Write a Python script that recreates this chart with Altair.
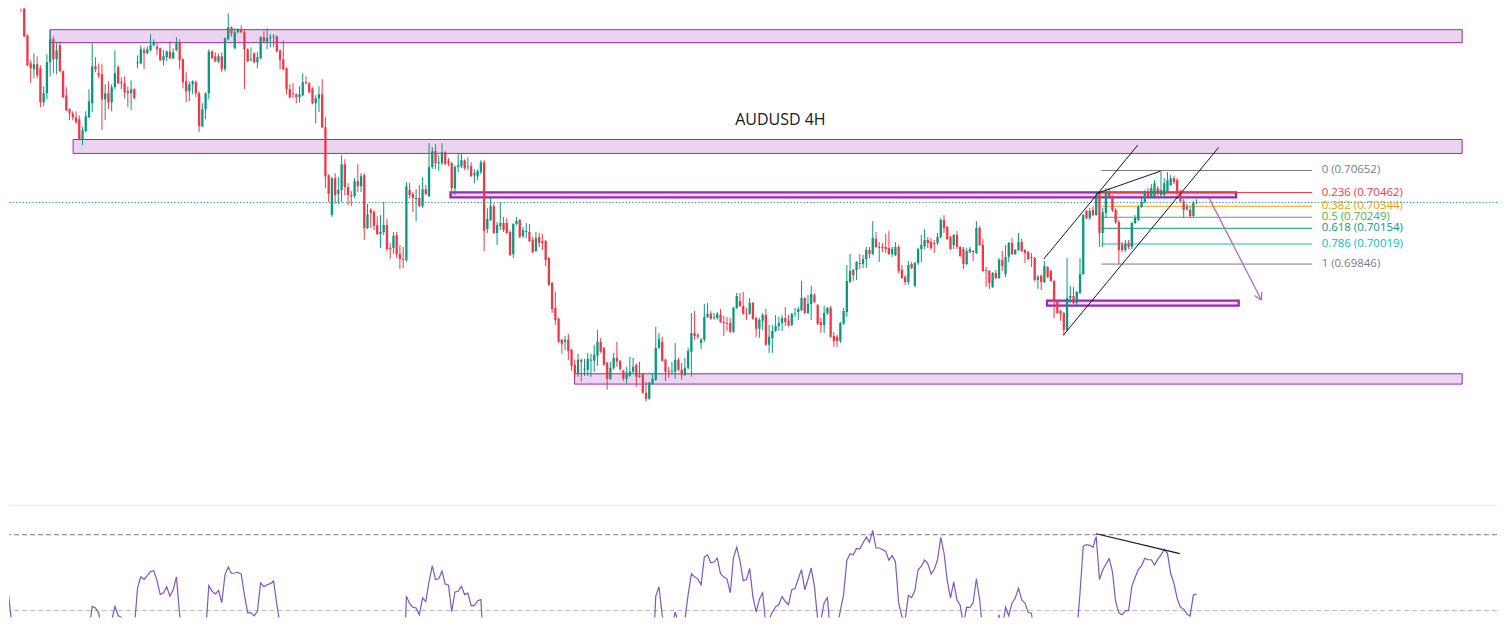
import altair as alt
import pandas as pd

# ---------------- candle data (AUDUSD 4H), first bar index = -4 ----------------
FIRST_BAR = -4

OPEN = [
 0.72461, 0.72375, 0.72306, 0.72220,
 0.72151, 0.72057, 0.71816, 0.71575, 0.71524, 0.71567, 0.71532, 0.71240, 0.71317, 0.71584,
 0.71782, 0.71610, 0.71730, 0.71506, 0.71300, 0.71180, 0.71145, 0.71111, 0.71094, 0.70922,
 0.70990, 0.71111, 0.71231, 0.71549, 0.71489, 0.71481, 0.71266, 0.71317, 0.71240, 0.71369,
 0.71541, 0.71412, 0.71403, 0.71334, 0.71317, 0.71352, 0.71575, 0.71575, 0.71687, 0.71661,
 0.71687, 0.71730, 0.71721, 0.71704, 0.71601, 0.71627, 0.71678, 0.71618, 0.71687, 0.71756,
 0.71610, 0.71420, 0.71334, 0.71395, 0.71412, 0.71317, 0.71033, 0.71180, 0.71317, 0.71678,
 0.71635, 0.71592, 0.71635, 0.71524, 0.71782, 0.71885, 0.71704, 0.71842, 0.71868, 0.71842,
 0.71696, 0.71601, 0.71661, 0.71584, 0.71618, 0.71799, 0.71764, 0.71790, 0.71799, 0.71807,
 0.71687, 0.71610, 0.71532, 0.71352, 0.71317, 0.71309, 0.71283, 0.71300, 0.71412, 0.71403,
 0.71360, 0.71231, 0.71274, 0.71309, 0.71025, 0.70612, 0.70268, 0.70586, 0.70449, 0.70483,
 0.70706, 0.70509, 0.70440, 0.70431, 0.70560, 0.70517, 0.70612, 0.70156, 0.70311, 0.70294,
 0.70182, 0.70105, 0.70122, 0.70182, 0.69984, 0.69984, 0.70096, 0.69933, 0.69890, 0.69881,
 0.70483, 0.70449, 0.70405, 0.70414, 0.70345, 0.70491, 0.70431, 0.70681, 0.70818, 0.70715,
 0.70715, 0.70810, 0.70732, 0.70715, 0.70500, 0.70681, 0.70689, 0.70741, 0.70681, 0.70689,
 0.70612, 0.70603, 0.70638, 0.70724, 0.70147, 0.70225, 0.70345, 0.70113, 0.70173, 0.70199,
 0.70199, 0.70122, 0.69933, 0.70191, 0.70225, 0.70087, 0.70122, 0.70122, 0.70053, 0.69958,
 0.70079, 0.70044, 0.70044, 0.69898, 0.69683, 0.69468, 0.69374, 0.69193, 0.69176, 0.69193,
 0.69107, 0.68978, 0.68901, 0.69021, 0.68935, 0.68935, 0.69013, 0.69013, 0.69056, 0.69176,
 0.69124, 0.68995, 0.68858, 0.68952, 0.69038, 0.69013, 0.68926, 0.68858, 0.68883, 0.68918,
 0.68978, 0.68875, 0.68901, 0.68737, 0.68686, 0.68815, 0.68849, 0.69124, 0.69176, 0.69021,
 0.68926, 0.68918, 0.68918, 0.69021, 0.68935, 0.68892, 0.68952, 0.69090, 0.69253, 0.69236,
 0.69167, 0.69193, 0.69391, 0.69417, 0.69382, 0.69382, 0.69408, 0.69348, 0.69339, 0.69339,
 0.69262, 0.69468, 0.69528, 0.69485, 0.69425, 0.69417, 0.69511, 0.69382, 0.69288, 0.69357,
 0.69408, 0.69150, 0.69210, 0.69270, 0.69313, 0.69339, 0.69382, 0.69357, 0.69322, 0.69417,
 0.69434, 0.69451, 0.69554, 0.69425, 0.69503, 0.69580, 0.69494, 0.69348, 0.69322, 0.69425,
 0.69468, 0.69227, 0.69219, 0.69184, 0.69331, 0.69434, 0.69692, 0.69795, 0.69795, 0.69855,
 0.69847, 0.69890, 0.69967, 0.69933, 0.70062, 0.69984, 0.69993, 0.69993, 0.69984, 0.69933,
 0.69924, 0.69993, 0.69795, 0.69735, 0.69692, 0.69847, 0.69657, 0.69855, 0.69976, 0.70002,
 0.70053, 0.70036, 0.70027, 0.70027, 0.70079, 0.70225, 0.70165, 0.70079, 0.70010, 0.70096,
 0.69993, 0.69976, 0.69847, 0.69950, 0.69958, 0.69941, 0.70156, 0.70010, 0.69795, 0.69786,
 0.69649, 0.69769, 0.69726, 0.69881, 0.69761, 0.69907, 0.70027, 0.69933, 0.69967, 0.70036,
 0.69967, 0.69950, 0.69907, 0.69898, 0.69709, 0.69743, 0.69692, 0.69821, 0.69786, 0.69700,
 0.69528, 0.69442, 0.69425, 0.69279, 0.69554, 0.69571, 0.69511, 0.69597, 0.69761, 0.70302,
 0.70242, 0.70311, 0.70268, 0.70457, 0.70113, 0.70285, 0.70466, 0.70423, 0.70311, 0.70208,
 0.70010, 0.69967, 0.70027, 0.69993, 0.70199, 0.70225, 0.70337, 0.70380, 0.70466, 0.70423,
 0.70431, 0.70500, 0.70440, 0.70440, 0.70466, 0.70526, 0.70586, 0.70569, 0.70457, 0.70388,
 0.70320, 0.70311, 0.70259, 0.70371,
]

CLOSE = [
 0.72375, 0.72306, 0.72220, 0.72151,
 0.72057, 0.71807, 0.71558, 0.71532, 0.71567, 0.71472, 0.71240, 0.71317, 0.71584, 0.71782,
 0.71610, 0.71687, 0.71506, 0.71283, 0.71171, 0.71145, 0.71111, 0.71068, 0.70922, 0.70999,
 0.71119, 0.71248, 0.71549, 0.71524, 0.71472, 0.71266, 0.71317, 0.71240, 0.71369, 0.71489,
 0.71403, 0.71403, 0.71326, 0.71317, 0.71352, 0.71274, 0.71584, 0.71696, 0.71661, 0.71696,
 0.71730, 0.71756, 0.71696, 0.71601, 0.71635, 0.71678, 0.71618, 0.71670, 0.71756, 0.71601,
 0.71412, 0.71334, 0.71395, 0.71420, 0.71317, 0.71033, 0.71180, 0.71317, 0.71678, 0.71618,
 0.71592, 0.71635, 0.71524, 0.71790, 0.71885, 0.71833, 0.71842, 0.71868, 0.71842, 0.71696,
 0.71592, 0.71610, 0.71584, 0.71627, 0.71799, 0.71764, 0.71790, 0.71799, 0.71807, 0.71678,
 0.71601, 0.71524, 0.71352, 0.71283, 0.71309, 0.71283, 0.71309, 0.71412, 0.71403, 0.71326,
 0.71231, 0.71274, 0.71309, 0.71025, 0.70603, 0.70449, 0.70586, 0.70440, 0.70483, 0.70706,
 0.70509, 0.70440, 0.70431, 0.70560, 0.70517, 0.70603, 0.70156, 0.70276, 0.70285, 0.70173,
 0.70105, 0.70122, 0.70182, 0.69976, 0.69976, 0.70087, 0.69933, 0.69890, 0.69881, 0.70517,
 0.70440, 0.70414, 0.70414, 0.70345, 0.70491, 0.70449, 0.70681, 0.70818, 0.70715, 0.70724,
 0.70810, 0.70706, 0.70715, 0.70500, 0.70681, 0.70698, 0.70741, 0.70672, 0.70689, 0.70603,
 0.70629, 0.70646, 0.70724, 0.70130, 0.70234, 0.70345, 0.70113, 0.70182, 0.70199, 0.70139,
 0.70113, 0.69924, 0.70191, 0.70216, 0.70079, 0.70139, 0.70130, 0.70044, 0.69950, 0.70070,
 0.70027, 0.70027, 0.69881, 0.69666, 0.69459, 0.69365, 0.69176, 0.69159, 0.69193, 0.69098,
 0.68969, 0.68901, 0.69021, 0.69004, 0.68944, 0.69030, 0.69021, 0.69064, 0.69176, 0.69090,
 0.68978, 0.68858, 0.68952, 0.69038, 0.69004, 0.68944, 0.68858, 0.68909, 0.68918, 0.68961,
 0.68875, 0.68883, 0.68737, 0.68686, 0.68823, 0.68858, 0.69124, 0.69202, 0.69013, 0.68918,
 0.68918, 0.68926, 0.69021, 0.68935, 0.68892, 0.68952, 0.69098, 0.69253, 0.69227, 0.69219,
 0.69193, 0.69391, 0.69417, 0.69374, 0.69391, 0.69417, 0.69348, 0.69339, 0.69331, 0.69262,
 0.69468, 0.69571, 0.69485, 0.69417, 0.69417, 0.69511, 0.69374, 0.69288, 0.69365, 0.69408,
 0.69150, 0.69219, 0.69270, 0.69313, 0.69339, 0.69382, 0.69348, 0.69322, 0.69417, 0.69425,
 0.69460, 0.69554, 0.69425, 0.69503, 0.69589, 0.69520, 0.69331, 0.69322, 0.69425, 0.69468,
 0.69219, 0.69184, 0.69184, 0.69339, 0.69442, 0.69700, 0.69786, 0.69752, 0.69864, 0.69847,
 0.69890, 0.69967, 0.69933, 0.70070, 0.69993, 0.69993, 0.69984, 0.69976, 0.69933, 0.69976,
 0.69993, 0.69786, 0.69726, 0.69692, 0.69838, 0.69812, 0.69855, 0.69976, 0.70010, 0.70053,
 0.70027, 0.69984, 0.70019, 0.70079, 0.70225, 0.70156, 0.70062, 0.69976, 0.70096, 0.69993,
 0.69915, 0.69847, 0.69958, 0.69976, 0.69950, 0.70156, 0.70010, 0.69786, 0.69786, 0.69683,
 0.69769, 0.69726, 0.69881, 0.69829, 0.69907, 0.70027, 0.69933, 0.69967, 0.70036, 0.69958,
 0.69941, 0.69890, 0.69898, 0.69709, 0.69735, 0.69692, 0.69829, 0.69735, 0.69700, 0.69520,
 0.69425, 0.69417, 0.69279, 0.69554, 0.69571, 0.69511, 0.69606, 0.69761, 0.70268, 0.70242,
 0.70302, 0.70268, 0.70440, 0.70113, 0.70294, 0.70466, 0.70423, 0.70311, 0.70208, 0.69967,
 0.69967, 0.70019, 0.69993, 0.70199, 0.70242, 0.70337, 0.70380, 0.70457, 0.70431, 0.70500,
 0.70543, 0.70457, 0.70483, 0.70543, 0.70569, 0.70586, 0.70552, 0.70457, 0.70388, 0.70311,
 0.70337, 0.70259, 0.70371, 0.70377,
]

HIGH = [
 0.72504, 0.72401, 0.72341, 0.72246,
 0.72186, 0.72074, 0.71825, 0.71601, 0.71661, 0.71635, 0.71558, 0.71377, 0.71653, 0.71859,
 0.71807, 0.71756, 0.71764, 0.71515, 0.71369, 0.71188, 0.71162, 0.71162, 0.71128, 0.71025,
 0.71162, 0.71352, 0.71747, 0.71627, 0.71575, 0.71567, 0.71395, 0.71420, 0.71395, 0.71687,
 0.71558, 0.71455, 0.71463, 0.71377, 0.71429, 0.71360, 0.71644, 0.71730, 0.71713, 0.71721,
 0.71825, 0.71782, 0.71756, 0.71713, 0.71687, 0.71687, 0.71764, 0.71704, 0.71799, 0.71782,
 0.71618, 0.71498, 0.71420, 0.71429, 0.71429, 0.71334, 0.71231, 0.71326, 0.71696, 0.71687,
 0.71670, 0.71661, 0.71670, 0.71799, 0.72005, 0.71893, 0.71876, 0.71876, 0.71902, 0.71859,
 0.71704, 0.71713, 0.71670, 0.71670, 0.71807, 0.71850, 0.71876, 0.71825, 0.71825, 0.71816,
 0.71696, 0.71773, 0.71541, 0.71395, 0.71403, 0.71317, 0.71377, 0.71489, 0.71463, 0.71412,
 0.71369, 0.71300, 0.71377, 0.71438, 0.71111, 0.70620, 0.70595, 0.70629, 0.70595, 0.70784,
 0.70749, 0.70543, 0.70474, 0.70586, 0.70707, 0.70629, 0.70629, 0.70363, 0.70328, 0.70311,
 0.70259, 0.70268, 0.70380, 0.70234, 0.70027, 0.70122, 0.70122, 0.70010, 0.69993, 0.70552,
 0.70543, 0.70466, 0.70491, 0.70526, 0.70595, 0.70526, 0.70887, 0.70853, 0.70879, 0.70784,
 0.70887, 0.70818, 0.70758, 0.70724, 0.70698, 0.70801, 0.70793, 0.70749, 0.70767, 0.70724,
 0.70664, 0.70664, 0.70741, 0.70741, 0.70328, 0.70414, 0.70371, 0.70208, 0.70380, 0.70251,
 0.70242, 0.70139, 0.70199, 0.70251, 0.70234, 0.70165, 0.70199, 0.70191, 0.70079, 0.70122,
 0.70113, 0.70105, 0.70053, 0.69907, 0.69692, 0.69606, 0.69382, 0.69202, 0.69227, 0.69245,
 0.69116, 0.69021, 0.69073, 0.69030, 0.69030, 0.69081, 0.69073, 0.69150, 0.69279, 0.69210,
 0.69133, 0.69004, 0.69004, 0.69081, 0.69176, 0.69021, 0.68935, 0.68961, 0.69047, 0.69038,
 0.68987, 0.69004, 0.68909, 0.68832, 0.68832, 0.68909, 0.69305, 0.69253, 0.69219, 0.69030,
 0.68961, 0.69004, 0.69167, 0.69038, 0.68995, 0.69038, 0.69124, 0.69425, 0.69442, 0.69253,
 0.69210, 0.69503, 0.69511, 0.69442, 0.69425, 0.69434, 0.69460, 0.69399, 0.69391, 0.69382,
 0.69477, 0.69597, 0.69597, 0.69606, 0.69468, 0.69554, 0.69520, 0.69391, 0.69382, 0.69425,
 0.69460, 0.69322, 0.69322, 0.69408, 0.69391, 0.69408, 0.69477, 0.69408, 0.69425, 0.69468,
 0.69477, 0.69700, 0.69563, 0.69580, 0.69657, 0.69597, 0.69503, 0.69382, 0.69485, 0.69477,
 0.69485, 0.69262, 0.69236, 0.69348, 0.69468, 0.69838, 0.69933, 0.69804, 0.69872, 0.69933,
 0.69924, 0.69993, 0.69993, 0.70216, 0.70122, 0.70036, 0.70027, 0.70105, 0.70130, 0.69993,
 0.70036, 0.70010, 0.69838, 0.69752, 0.69872, 0.69864, 0.69864, 0.69984, 0.70096, 0.70147,
 0.70079, 0.70070, 0.70053, 0.70113, 0.70242, 0.70268, 0.70173, 0.70087, 0.70105, 0.70130,
 0.70002, 0.69993, 0.69984, 0.69993, 0.69967, 0.70216, 0.70173, 0.70062, 0.69821, 0.69795,
 0.69778, 0.69795, 0.69898, 0.69959, 0.70010, 0.70036, 0.70070, 0.69976, 0.70113, 0.70062,
 0.69976, 0.69958, 0.69941, 0.69907, 0.69752, 0.69761, 0.69872, 0.69829, 0.69795, 0.69709,
 0.69537, 0.69451, 0.69434, 0.69898, 0.69657, 0.69649, 0.69614, 0.69898, 0.70277, 0.70311,
 0.70328, 0.70345, 0.70466, 0.70474, 0.70328, 0.70500, 0.70500, 0.70440, 0.70328, 0.70225,
 0.70036, 0.70053, 0.70053, 0.70208, 0.70268, 0.70354, 0.70414, 0.70483, 0.70500, 0.70535,
 0.70569, 0.70517, 0.70652, 0.70586, 0.70638, 0.70612, 0.70603, 0.70586, 0.70483, 0.70405,
 0.70363, 0.70345, 0.70388, 0.70405,
]

LOW = [
 0.72358, 0.72272, 0.72186, 0.72117,
 0.72014, 0.71799, 0.71549, 0.71403, 0.71446, 0.71446, 0.71197, 0.71205, 0.71266, 0.71463,
 0.71489, 0.71481, 0.71498, 0.71274, 0.71162, 0.71085, 0.71085, 0.71051, 0.70913, 0.70870,
 0.70982, 0.71102, 0.71154, 0.71498, 0.71446, 0.70999, 0.71085, 0.71180, 0.71162, 0.71352,
 0.71395, 0.71352, 0.71274, 0.71197, 0.71171, 0.71266, 0.71532, 0.71567, 0.71524, 0.71653,
 0.71678, 0.71721, 0.71644, 0.71592, 0.71558, 0.71592, 0.71610, 0.71610, 0.71678, 0.71524,
 0.71360, 0.71240, 0.71248, 0.71309, 0.71283, 0.70982, 0.71025, 0.71094, 0.71266, 0.71610,
 0.71584, 0.71575, 0.71498, 0.71506, 0.71773, 0.71807, 0.71695, 0.71833, 0.71833, 0.71352,
 0.71584, 0.71592, 0.71575, 0.71532, 0.71610, 0.71756, 0.71696, 0.71713, 0.71713, 0.71670,
 0.71524, 0.71515, 0.71309, 0.71274, 0.71274, 0.71231, 0.71240, 0.71292, 0.71395, 0.71317,
 0.71223, 0.71059, 0.71154, 0.71016, 0.70500, 0.70380, 0.70251, 0.70363, 0.70363, 0.70380,
 0.70440, 0.70354, 0.70345, 0.70414, 0.70466, 0.70466, 0.70053, 0.70147, 0.70156, 0.70139,
 0.70096, 0.69984, 0.70096, 0.69958, 0.69890, 0.69933, 0.69898, 0.69804, 0.69812, 0.69864,
 0.70414, 0.70294, 0.70216, 0.70337, 0.70328, 0.70440, 0.70423, 0.70664, 0.70664, 0.70646,
 0.70698, 0.70698, 0.70689, 0.70423, 0.70440, 0.70638, 0.70672, 0.70655, 0.70655, 0.70595,
 0.70543, 0.70569, 0.70620, 0.69958, 0.70113, 0.70216, 0.70105, 0.70010, 0.70139, 0.70122,
 0.70105, 0.69915, 0.69898, 0.70182, 0.70070, 0.70070, 0.70070, 0.70036, 0.69941, 0.69950,
 0.69993, 0.69967, 0.69829, 0.69657, 0.69425, 0.69322, 0.69167, 0.69073, 0.69107, 0.69021,
 0.68926, 0.68849, 0.68875, 0.68832, 0.68883, 0.68883, 0.68875, 0.68918, 0.68969, 0.69081,
 0.68969, 0.68763, 0.68849, 0.68935, 0.68961, 0.68926, 0.68840, 0.68815, 0.68875, 0.68909,
 0.68789, 0.68866, 0.68729, 0.68660, 0.68677, 0.68806, 0.68840, 0.69116, 0.69004, 0.68840,
 0.68866, 0.68892, 0.68858, 0.68926, 0.68849, 0.68883, 0.68935, 0.68875, 0.69193, 0.69202,
 0.69116, 0.69176, 0.69382, 0.69365, 0.69365, 0.69365, 0.69339, 0.69227, 0.69270, 0.69253,
 0.69253, 0.69460, 0.69477, 0.69408, 0.69365, 0.69408, 0.69365, 0.69219, 0.69210, 0.69279,
 0.69141, 0.69081, 0.69081, 0.69262, 0.69270, 0.69270, 0.69313, 0.69305, 0.69313, 0.69391,
 0.69365, 0.69442, 0.69417, 0.69417, 0.69365, 0.69511, 0.69322, 0.69253, 0.69253, 0.69408,
 0.69210, 0.69133, 0.69133, 0.69167, 0.69322, 0.69391, 0.69683, 0.69700, 0.69709, 0.69804,
 0.69812, 0.69812, 0.69898, 0.69924, 0.69984, 0.69864, 0.69950, 0.69941, 0.69924, 0.69907,
 0.69915, 0.69769, 0.69717, 0.69666, 0.69666, 0.69804, 0.69649, 0.69838, 0.69864, 0.69976,
 0.69984, 0.69967, 0.69941, 0.70010, 0.70070, 0.70113, 0.70053, 0.69967, 0.69976, 0.69976,
 0.69907, 0.69804, 0.69838, 0.69941, 0.69872, 0.69933, 0.70002, 0.69778, 0.69649, 0.69631,
 0.69640, 0.69717, 0.69717, 0.69786, 0.69735, 0.69864, 0.69924, 0.69924, 0.69958, 0.69950,
 0.69855, 0.69881, 0.69821, 0.69700, 0.69631, 0.69623, 0.69683, 0.69726, 0.69692, 0.69382,
 0.69417, 0.69357, 0.69227, 0.69270, 0.69511, 0.69503, 0.69477, 0.69589, 0.69752, 0.70234,
 0.70225, 0.70259, 0.70259, 0.69993, 0.69993, 0.70242, 0.70405, 0.70294, 0.70191, 0.69846,
 0.69950, 0.69950, 0.69976, 0.69976, 0.70191, 0.70216, 0.70328, 0.70371, 0.70423, 0.70414,
 0.70423, 0.70440, 0.70423, 0.70431, 0.70457, 0.70517, 0.70535, 0.70440, 0.70371, 0.70242,
 0.70302, 0.70242, 0.70251, 0.70363,
]

# RSI(14) per bar
RSI = [
 55.5, 47.6, 44, 42,
 40, 36, 33, 35, 37, 36, 34, 38, 42, 45,
 41, 43, 40, 37, 35, 34, 33, 32, 31, 36,
 43, 45, 51.1, 50.7, 49.4, 44, 42, 43, 47.4, 51.1,
 48.7, 48.2, 46.1, 45.8, 46.8, 45.5, 56.0, 58.9, 58.2, 59.2,
 60.3, 60.5, 57.9, 54.2, 54.7, 56.3, 53.8, 55.5, 58.9, 48.9,
 43, 40, 42, 43, 40, 36, 40, 44, 56.6, 55.1,
 54.4, 55.3, 52.1, 59.5, 61.5, 59.8, 59.9, 60.1, 59.6, 54.1,
 49.4, 49.4, 48.6, 49.8, 57.3, 56.3, 56.8, 57.1, 57.8, 51.6,
 46.3, 42, 38, 36, 36, 35, 37, 41, 42, 40,
 38, 39, 40, 33, 25, 22, 32, 30, 32, 40,
 36, 35, 35, 38, 37, 39, 30, 34, 34, 32,
 31, 32, 34, 29, 29, 33, 29, 28, 28, 53.8,
 51.8, 50.9, 50.7, 48.9, 53.3, 52.4, 57.6, 61.8, 58.2, 58.4,
 60.4, 57.0, 56.7, 49.7, 54.9, 55.1, 56.4, 54.2, 54.6, 51.3,
 51.3, 52.6, 52.9, 38, 41, 43, 38, 40, 41, 39,
 38, 33, 42, 45.5, 40, 41, 42, 39, 36, 40,
 38, 38, 33, 28, 24, 23, 20, 21, 22, 20,
 18, 17, 26, 26, 25, 29, 29, 31, 36, 33,
 30, 27, 31, 34, 33, 32, 30, 32, 33, 34,
 32, 32, 28, 27, 33, 35, 53.8, 56.3, 48.7, 45.5,
 45.5, 45.5, 49.6, 46.8, 44, 47.6, 54.2, 59.7, 58.9, 58.3,
 56.8, 64.1, 64.7, 62.6, 62.8, 63.8, 59.7, 58.9, 58.3, 54.7,
 63.9, 66.7, 63.2, 57.9, 58.2, 61.1, 53.6, 49.6, 53.0, 54.7,
 46.1, 47.6, 49.6, 51.0, 51.6, 53.7, 52.4, 51.6, 55.5, 55.8,
 58.4, 60.8, 55.5, 58.2, 61.2, 56.3, 47.6, 47.4, 52.1, 53.4,
 43, 43, 45.5, 50.0, 54.2, 63.2, 65.0, 64.7, 66.4, 66.2,
 67.8, 69.4, 68.0, 71.1, 66.5, 66.5, 66.1, 65.6, 63.3, 64.5,
 62.9, 52.0, 48.4, 47.6, 54.0, 53.4, 55.3, 60.7, 61.7, 63.3,
 62.4, 59.6, 60.9, 63.4, 69.3, 65.2, 57.9, 53.3, 57.6, 52.8,
 51.4, 46.3, 50.9, 50.8, 52.1, 58.4, 53.0, 44, 40, 41,
 43, 44, 48.9, 45.5, 50.9, 48.6, 52.0, 53.3, 55.9, 52.8,
 52.0, 49.5, 49.3, 43, 40, 42, 48.0, 44, 41, 37,
 35, 35, 33, 40, 41, 40, 44, 54.7, 67.0, 67.4,
 67.2, 66.7, 69.5, 58.2, 60.7, 62.2, 63.7, 60.3, 52.4, 49.4,
 48.9, 50.0, 50.0, 56.4, 58.7, 60.8, 61.8, 63.8, 63.4, 63.4,
 62.0, 63.5, 64.7, 66.1, 65.1, 59.7, 57.2, 53.2, 50.9, 50.4,
 49.1, 48.6, 54.1, 54.4,
]

# ---------------- drawings (bar index / price anchors) ----------------
ZONE_BAR_START = [9.0, 16.1, 132.6, 316.8, 170.9]
ZONE_BAR_END = [445.0, 445.0, 375.2, 376.0, 445.0]
ZONE_TOP = [0.71865, 0.70919, 0.70463, 0.69531, 0.68901]
ZONE_BOTTOM = [0.71753, 0.70799, 0.70420, 0.69488, 0.68812]
ZONE_BOLD = [False, False, True, True, False]

FIB_RATIOS = ["0", "0.236", "0.382", "0.5", "0.618", "0.786", "1"]
FIB_PRICES = [0.70652, 0.70462, 0.70344, 0.70249, 0.70154, 0.70019, 0.69846]
FIB_BAR_START = 333.6
FIB_BAR_END = 398.7
FIB_LABEL_BAR = 401.6

CHANNEL_BAR0 = [315.8, 321.9, 332.1]
CHANNEL_P0 = [0.69889, 0.69235, 0.70454]
CHANNEL_BAR1 = [344.8, 369.8, 351.8]
CHANNEL_P1 = [0.70870, 0.70850, 0.70646]

ARROW_BAR0 = [366.9, 383.0, 383.0]
ARROW_P0 = [0.70412, 0.69537, 0.69537]
ARROW_BAR1 = [383.0, 383.1, 380.9]
ARROW_P1 = [0.69537, 0.69605, 0.69574]

DIV_BAR = [332.0, 357.8]
DIV_RSI = [70.26, 65.0]

TITLE = "AUDUSD 4H"
TITLE_BAR = 234.5
TITLE_PRICE = 0.71042

RSI_LEVELS = [70, 50]

# ---------------- styling / layout ----------------
UP = "#089981"
DOWN = "#f23645"
PURPLE = "#9c27b0"
FIB_COLORS = ["#787b86", "#f23645", "#ff9800", "#4caf50", "#089981", "#00bcd4", "#787b86"]
FONT = "Open Sans"

W = 1490
H_MAIN = 497
H_RSI = 113
X_DOMAIN = [-3.700, 455.75]
Y_DOMAIN = [0.677729, 0.720481]
RSI_DOMAIN = [48.158, 77.895]

xs = alt.Scale(domain=X_DOMAIN, nice=False, zero=False)
ys = alt.Scale(domain=Y_DOMAIN, nice=False, zero=False)
rs = alt.Scale(domain=RSI_DOMAIN, nice=False, zero=False)


def X(f):
    return alt.X(f, type="quantitative", scale=xs, axis=None)


def Y(f):
    return alt.Y(f, type="quantitative", scale=ys, axis=None)


def YR(f):
    return alt.Y(f, type="quantitative", scale=rs, axis=None)


n = len(CLOSE)
candles = pd.DataFrame({
    "bar": list(range(FIRST_BAR, FIRST_BAR + n)),
    "open": OPEN, "high": HIGH, "low": LOW, "close": CLOSE, "rsi": RSI,
})
candle_color = alt.condition("datum.close >= datum.open", alt.value(UP), alt.value(DOWN))

zones = pd.DataFrame({"b0": ZONE_BAR_START, "b1": ZONE_BAR_END,
                      "top": ZONE_TOP, "bottom": ZONE_BOTTOM, "bold": ZONE_BOLD})
fib = pd.DataFrame({"ratio": FIB_RATIOS, "price": FIB_PRICES})
fib["label"] = [f"{r} ({p:.5f})" for r, p in zip(FIB_RATIOS, FIB_PRICES)]
fib["b0"] = FIB_BAR_START
fib["b1"] = FIB_BAR_END
fib["lb"] = FIB_LABEL_BAR
fib_color = alt.Color("ratio:N", scale=alt.Scale(domain=FIB_RATIOS, range=FIB_COLORS), legend=None)

channel = pd.DataFrame({"b0": CHANNEL_BAR0, "p0": CHANNEL_P0, "b1": CHANNEL_BAR1, "p1": CHANNEL_P1})
arrow = pd.DataFrame({"b0": ARROW_BAR0, "p0": ARROW_P0, "b1": ARROW_BAR1, "p1": ARROW_P1})
title_df = pd.DataFrame({"bar": [TITLE_BAR], "price": [TITLE_PRICE], "text": [TITLE]})
last_df = pd.DataFrame({"price": [CLOSE[-1]]})

zone_thin = alt.Chart(zones[~zones["bold"]]).mark_rect(
    fill=PURPLE, fillOpacity=0.2, stroke=PURPLE, strokeWidth=1, clip=True
).encode(x=X("b0"), x2="b1", y=Y("top"), y2="bottom")
zone_bold = alt.Chart(zones[zones["bold"]]).mark_rect(
    fill=PURPLE, fillOpacity=0.15, stroke=PURPLE, strokeWidth=2.2, clip=True
).encode(x=X("b0"), x2="b1", y=Y("top"), y2="bottom")

fib_lines = alt.Chart(fib).mark_rule(strokeWidth=1, clip=True).encode(
    x=X("b0"), x2="b1", y=Y("price"), color=fib_color)
fib_text = alt.Chart(fib).mark_text(
    align="left", baseline="middle", font=FONT, fontSize=11.5, clip=True
).encode(x=X("lb"), y=Y("price"), text="label:N", color=fib_color)

wicks = alt.Chart(candles).mark_rule(strokeWidth=1, clip=True).encode(
    x=X("bar"), y=Y("low"), y2="high", color=candle_color)
bodies = alt.Chart(candles).mark_rule(strokeWidth=2.3, clip=True).encode(
    x=X("bar"), y=Y("open"), y2="close", color=candle_color)

last_line = alt.Chart(last_df).mark_rule(
    color=UP, strokeWidth=1, strokeDash=[1.3, 2], clip=True).encode(y=Y("price"))

channel_lines = alt.Chart(channel).mark_rule(color="#131722", strokeWidth=1, clip=True).encode(
    x=X("b0"), x2="b1", y=Y("p0"), y2="p1")
arrow_lines = alt.Chart(arrow).mark_rule(color="#b668c6", strokeWidth=1.3, clip=True).encode(
    x=X("b0"), x2="b1", y=Y("p0"), y2="p1")

title = alt.Chart(title_df).mark_text(
    align="center", baseline="alphabetic", font=FONT, fontSize=16, color="#131722", clip=True
).encode(x=X("bar"), y=Y("price"), text="text:N")

main = alt.layer(
    zone_thin, zone_bold, fib_lines, wicks, bodies, last_line,
    channel_lines, arrow_lines, fib_text, title
).properties(width=W, height=H_MAIN)

# ---------------- RSI panel ----------------
sep = alt.Chart(pd.DataFrame({"v": [0]})).mark_rule(color="#e0e3eb", strokeWidth=1).encode(
    y=alt.value(0.5))
lvl = pd.DataFrame({"level": RSI_LEVELS})
band70 = alt.Chart(lvl[lvl["level"] == 70]).mark_rule(
    color="#787b86", strokeWidth=1, strokeDash=[5, 3], clip=True).encode(y=YR("level"))
band50 = alt.Chart(lvl[lvl["level"] == 50]).mark_rule(
    color="#b2b5be", strokeWidth=1, strokeDash=[5, 3], clip=True).encode(y=YR("level"))
rsi_line = alt.Chart(candles).mark_line(color="#7e57c2", strokeWidth=1.2, clip=True).encode(
    x=X("bar"), y=YR("rsi"))
div_df = pd.DataFrame({"b0": [DIV_BAR[0]], "r0": [DIV_RSI[0]], "b1": [DIV_BAR[1]], "r1": [DIV_RSI[1]]})
div_line = alt.Chart(div_df).mark_rule(color="#131722", strokeWidth=1.2, clip=True).encode(
    x=X("b0"), x2="b1", y=YR("r0"), y2="r1")

rsi_panel = alt.layer(sep, band70, band50, rsi_line, div_line).properties(width=W, height=H_RSI)

chart = alt.vconcat(main, rsi_panel, spacing=0).properties(
    padding=0, background="white"
).configure_view(stroke=None)

chart.save("out.html", embed_options={"renderer": "svg", "actions": False})
